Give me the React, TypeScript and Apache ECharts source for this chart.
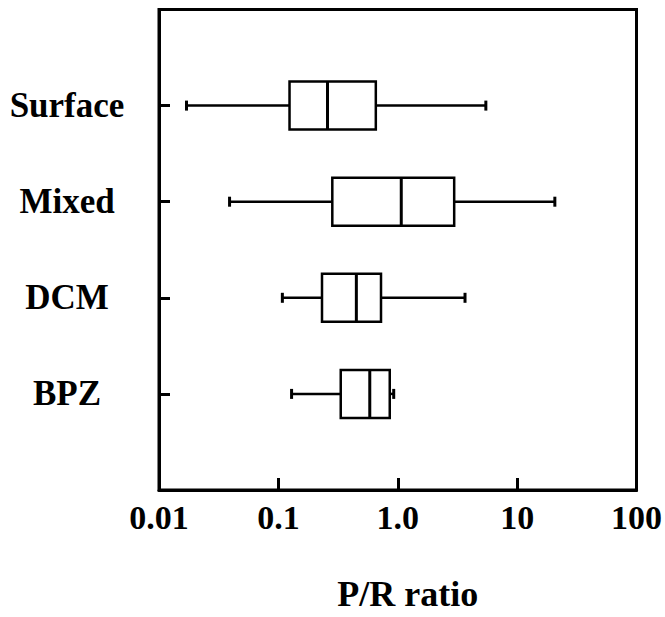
import React, { useEffect, useRef } from "react";
import * as echarts from "echarts";

const categories = ["", "BPZ", "DCM", "Mixed", "Surface", ""];
const groups = ["BPZ", "DCM", "Mixed", "Surface"];
const whiskerLow = [0.129, 0.108, 0.039, 0.017];
const quartile1 = [0.333, 0.232, 0.283, 0.124];
const medians = [0.583, 0.45, 1.07, 0.258];
const quartile3 = [0.857, 0.724, 2.97, 0.655];
const whiskerHigh = [0.925, 3.66, 20.7, 5.47];
const xTickValues = [0.01, 0.1, 1, 10, 100];
const xTickLabels = ["0.01", "0.1", "1.0", "10", "100"];

const FONT = "'Liberation Serif', 'Times New Roman', serif";

export default function App() {
  const ref = useRef<HTMLDivElement>(null);
  useEffect(() => {
    if (!ref.current) return;
    const chart = echarts.init(ref.current, null, { renderer: "svg" });
    const data = groups.map((g, i) => [
      categories.indexOf(g),
      whiskerLow[i],
      quartile1[i],
      medians[i],
      quartile3[i],
      whiskerHigh[i],
    ]);
    chart.setOption({
      animation: false,
      backgroundColor: "#fff",
      grid: {
        left: 159,
        right: 24,
        top: 9.5,
        bottom: 127,
        show: true,
        borderColor: "#000",
        borderWidth: 3,
        backgroundColor: "transparent",
      },
      xAxis: {
        type: "log",
        logBase: 10,
        min: 0.01,
        max: 100,
        name: "P/R ratio",
        nameLocation: "middle",
        nameGap: 86,
        nameTextStyle: {
          fontFamily: FONT,
          fontWeight: "bold",
          fontSize: 36,
          color: "#000",
          padding: [0, 0, 0, 20],
        },
        axisLine: { show: true, lineStyle: { color: "#000", width: 3 } },
        axisTick: { show: true, inside: true, length: 12, lineStyle: { color: "#000", width: 3 } },
        splitLine: { show: false },
        minorTick: { show: false },
        axisLabel: {
          margin: 10,
          fontFamily: FONT,
          fontWeight: "bold",
          fontSize: 34,
          color: "#000",
          formatter: (v: number) => {
            const idx = xTickValues.findIndex((t) => Math.abs(Math.log10(t) - Math.log10(v)) < 1e-6);
            return idx >= 0 ? xTickLabels[idx] : "";
          },
        },
      },
      yAxis: {
        type: "category",
        data: categories,
        boundaryGap: false,
        axisLine: { show: true, lineStyle: { color: "#000", width: 3 } },
        axisTick: {
          show: true,
          inside: true,
          length: 11,
          lineStyle: { color: "#000", width: 3 },
          interval: (index: number, value: string) => value !== "",
        },
        splitLine: { show: false },
        axisLabel: {
          margin: 92,
          align: "center",
          fontFamily: FONT,
          fontWeight: "bold",
          fontSize: 35,
          color: "#000",
          interval: 0,
        },
      },
      series: [
        {
          type: "custom",
          encode: { x: [1, 2, 3, 4, 5], y: 0 },
          data,
          renderItem: (params: any, api: any) => {
            const c = api.value(0);
            const pLow = api.coord([api.value(1), c]);
            const pQ1 = api.coord([api.value(2), c]);
            const pMed = api.coord([api.value(3), c]);
            const pQ3 = api.coord([api.value(4), c]);
            const pHigh = api.coord([api.value(5), c]);
            const y = pMed[1];
            const bh = 24;
            const cap = 5;
            const lw = { stroke: "#000", lineWidth: 2.5, fill: "none" };
            return {
              type: "group",
              children: [
                { type: "line", shape: { x1: pLow[0], y1: y, x2: pQ1[0], y2: y }, style: lw },
                { type: "line", shape: { x1: pQ3[0], y1: y, x2: pHigh[0], y2: y }, style: lw },
                { type: "line", shape: { x1: pLow[0], y1: y - cap, x2: pLow[0], y2: y + cap }, style: { stroke: "#000", lineWidth: 3 } },
                { type: "line", shape: { x1: pHigh[0], y1: y - cap, x2: pHigh[0], y2: y + cap }, style: { stroke: "#000", lineWidth: 3 } },
                {
                  type: "rect",
                  shape: { x: pQ1[0], y: y - bh, width: pQ3[0] - pQ1[0], height: bh * 2 },
                  style: { fill: "#fff", stroke: "#000", lineWidth: 2.5 },
                },
                { type: "line", shape: { x1: pMed[0], y1: y - bh, x2: pMed[0], y2: y + bh }, style: { stroke: "#000", lineWidth: 3 } },
              ],
            };
          },
        },
      ],
    });
    return () => chart.dispose();
  }, []);
  return <div ref={ref} style={{ width: 665, height: 617, position: "absolute", left: 0, top: 0 }} />;
}
